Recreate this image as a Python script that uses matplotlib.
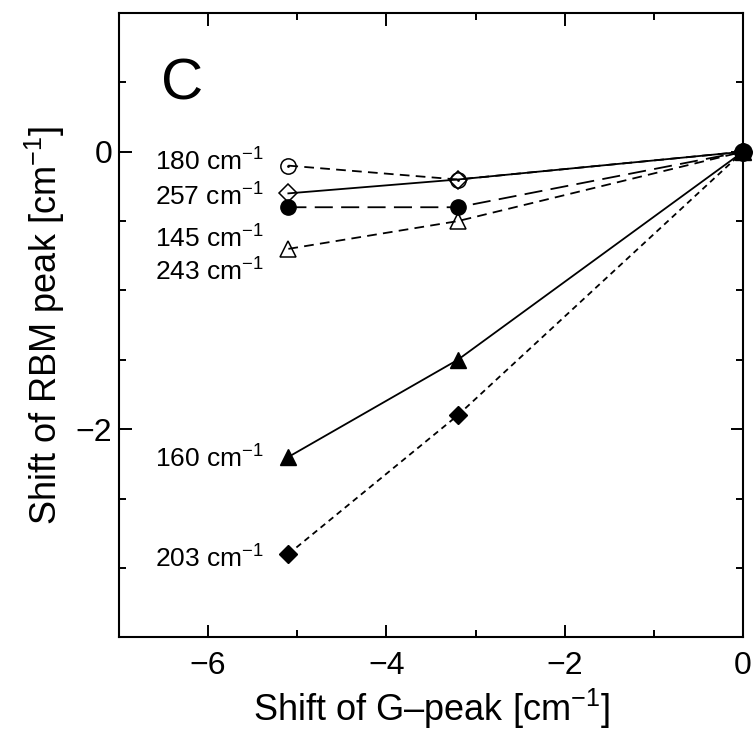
import matplotlib
matplotlib.use("Agg")
import matplotlib.pyplot as plt

plt.rcParams['font.family'] = ['Liberation Sans', 'DejaVu Sans']
plt.rcParams['mathtext.fontset'] = 'custom'
plt.rcParams['mathtext.rm'] = 'Liberation Sans'
plt.rcParams['mathtext.it'] = 'Liberation Sans'
plt.rcParams['lines.scale_dashes'] = False

# Data
g_shift = [-5.1, -3.2, 0.0]
rbm_180 = [-0.1, -0.2, 0.0]
rbm_257 = [-0.3, -0.2, 0.0]
rbm_145 = [-0.4, -0.4, 0.0]
rbm_243 = [-0.7, -0.5, 0.0]
rbm_160 = [-2.2, -1.5, 0.0]
rbm_203 = [-2.9, -1.9, 0.0]

labels = ["180", "257", "145", "243", "160", "203"]
label_y = [-0.137, -0.39, -0.69, -0.93, -2.28, -3.0]

fig = plt.figure(figsize=(7.56, 7.36), dpi=100)
ax = fig.add_axes([0.1574, 0.1341, 0.8254, 0.8482])

lw = 1.3
ms = 11
# 180: open circle with dot, dashed
ax.plot(g_shift, rbm_180, color='k', lw=lw, linestyle=(0, (7, 4.5)),
        marker='o', ms=ms, mfc='none', mec='k', mew=1.1, clip_on=False)
ax.plot(g_shift[:2], rbm_180[:2], linestyle='none', marker='.', ms=2, color='k')
# 257: open diamond, solid
ax.plot(g_shift, rbm_257, color='k', lw=lw, linestyle='-',
        marker='D', ms=9, mfc='none', mec='k', mew=1.1, clip_on=False)
# 145: filled circle, long dashes
ax.plot(g_shift, rbm_145, color='k', lw=lw, linestyle=(0, (13, 6)),
        marker='o', ms=ms, mfc='k', mec='k', clip_on=False)
# 243: open triangle, dashed
ax.plot(g_shift, rbm_243, color='k', lw=lw, linestyle=(0, (7, 4.5)),
        marker='^', ms=ms, mfc='none', mec='k', mew=1.1, clip_on=False)
# 160: filled triangle, solid
ax.plot(g_shift, rbm_160, color='k', lw=lw, linestyle='-',
        marker='^', ms=ms, mfc='k', mec='k', clip_on=False)
# 203: filled diamond, short dashes
ax.plot(g_shift, rbm_203, color='k', lw=lw, linestyle=(0, (4.3, 3.2)),
        marker='D', ms=9, mfc='k', mec='k', clip_on=False)
# common point at origin
ax.plot(g_shift[2:], rbm_145[2:], linestyle='none', marker='o', ms=12.5,
        color='k', clip_on=False, zorder=5)

for lab, yv in zip(labels, label_y):
    ax.text(-6.6, yv, lab + r" cm$^{-1}$", fontsize=19, ha='left', va='baseline')

ax.text(0.068, 0.861, "C", transform=ax.transAxes, fontsize=42,
        ha='left', va='baseline')

ax.set_xlim(-7, 0)
ax.set_ylim(-3.5, 1)
ax.set_xticks([-6, -4, -2, 0])
ax.set_xticks([-7, -5, -3, -1], minor=True)
ax.set_yticks([0, -2])
ax.set_yticks([1, 0.5, -0.5, -1, -1.5, -2.5, -3, -3.5], minor=True)

ax.tick_params(which='both', direction='in', top=True, right=True,
               labelsize=23, width=1.4)
ax.tick_params(which='major', length=9)
ax.tick_params(which='minor', length=5)
ax.tick_params(axis='x', which='major', pad=10)
ax.tick_params(axis='y', which='major', pad=5)
for s in ax.spines.values():
    s.set_linewidth(1.5)

ax.set_xlabel("Shift of G\u2013peak [cm$^{-1}$]", fontsize=26, labelpad=4)
ax.set_ylabel(r"Shift of RBM peak [cm$^{-1}$]", fontsize=26, labelpad=6)

fig.savefig("out.png", dpi=100)
